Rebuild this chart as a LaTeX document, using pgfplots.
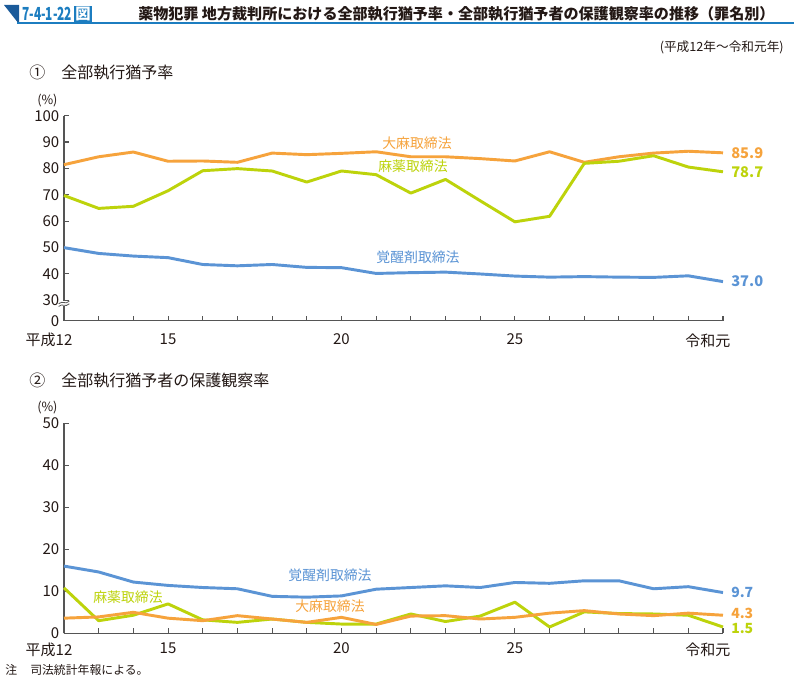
\documentclass[border=0pt]{standalone}
\usepackage{pgfplots}
\pgfplotsset{compat=1.18}
\usepackage{graphicx}
\usepackage{fontspec}
\setmainfont{Noto Sans CJK JP}
\definecolor{cOr}{HTML}{F6A33C}
\definecolor{cGr}{HTML}{BDD30B}
\definecolor{cBl}{HTML}{5B94D5}
\definecolor{tBl}{HTML}{1C7DC0}
\definecolor{tDk}{HTML}{1A5A9A}
\definecolor{axc}{HTML}{555555}
\definecolor{txt}{HTML}{231815}
\pgfplotsset{
  myax/.style={
    scale only axis, width=494.25pt,
    axis x line*=bottom, axis y line*=left,
    axis line style={axc, line width=0.9pt},
    xmin=2000, xmax=2019, clip=false,
    tick align=inside, major tick length=3.75pt, minor tick length=3.75pt,
    tick style={axc, line width=0.8pt},
    xtick={2000,2003,2008,2013,2019},
    xticklabels={{\llap{平成}12},15,20,25,{\llap{令和}元}},
    minor xtick={2001,2002,2004,2005,2006,2007,2009,2010,2011,2012,2014,2015,2016,2017,2018},
    /pgf/number format/assume math mode=true,
    ticklabel style={font=\fontsize{11.25}{12}\selectfont, text=txt},
    every axis plot/.append style={line width=2.2pt, mark=none, line join=round},
  }
}
\begin{document}
\begin{tikzpicture}
\begin{scope}[x=0.75pt,y=0.75pt]
\useasboundingbox (0,0) rectangle (794,682);
\fill[white] (0,0) rectangle (794,682);
% title bar
\fill[tDk] (4,677) -- (19,677) -- (19,658) -- cycle;
\draw[tBl, line width=1.5pt] (17,658.5) -- (794,658.5);
\node[anchor=west, text=tBl, inner sep=0pt, font=\bfseries\fontsize{13.5}{14}\selectfont] (num) at (22,668) {\scalebox{0.66}[1]{7-4-1-22}};
\node[anchor=west, fill=tBl, text=white, inner sep=0.8pt, font=\bfseries\fontsize{11.5}{12}\selectfont] at ([xshift=1.2pt]num.east) {図};
\node[anchor=west, inner sep=0pt, text=txt, font=\bfseries\fontsize{11.3}{12}\selectfont] at (138,668) {薬物犯罪 地方裁判所における全部執行猶予率・全部執行猶予者の保護観察率の推移（罪名別）};
\node[anchor=east, inner sep=0pt, text=txt, font=\fontsize{9.5}{10}\selectfont] at (784,635) {(平成12年～令和元年)};
\node[anchor=west, inner sep=0pt, text=txt, font=\fontsize{12}{13}\selectfont] at (29,609) {①\hspace{12pt}全部執行猶予率};
\node[anchor=west, inner sep=0pt, text=txt, font=\fontsize{9.5}{10}\selectfont] at (37,581) {(\%)};
\node[anchor=west, inner sep=0pt, text=txt, font=\fontsize{12}{13}\selectfont] at (29,301) {②\hspace{12pt}全部執行猶予者の保護観察率};
\node[anchor=west, inner sep=0pt, text=txt, font=\fontsize{9.5}{10}\selectfont] at (37,274) {(\%)};
\node[anchor=west, inner sep=0pt, text=txt, font=\fontsize{8.9}{10}\selectfont] at (5,12) {注};
\node[anchor=west, inner sep=0pt, text=txt, font=\fontsize{8.9}{10}\selectfont] at (30,12) {司法統計年報による。};
% series labels
\begin{scope}[every node/.style={inner sep=0pt, font=\fontsize{10.4}{11}\selectfont}]
\node[text=cOr] at (417,682-143) {大麻取締法};
\node[text=cGr] at (413,682-166) {麻薬取締法};
\node[text=cBl] at (418,682-257) {覚醒剤取締法};
\node[text=cBl] at (330,682-575) {覚醒剤取締法};
\node[text=cGr] at (128,682-597) {麻薬取締法};
\node[text=cOr] at (330,682-606) {大麻取締法};
\end{scope}
\end{scope}

% ---------- chart 1 ----------
\begin{axis}[myax, at={(48pt,270.975pt)}, anchor=south west, height=153.75pt,
  ymin=22.16, ymax=100,
  xticklabel style={yshift=-6pt},
  ytick={22.16,30,40,50,60,70,80,90,100},
  yticklabels={0,30,40,50,60,70,80,90,100}]
\addplot[cOr] coordinates {(2000,81.4)(2001,84.4)(2002,86.2)(2003,82.7)(2004,82.8)(2005,82.3)(2006,85.8)(2007,85.2)(2008,85.7)(2009,86.3)(2010,84.4)(2011,84.4)(2012,83.7)(2013,82.8)(2014,86.3)(2015,82.3)(2016,84.4)(2017,85.8)(2018,86.5)(2019,85.9)};
\addplot[cGr] coordinates {(2000,69.7)(2001,64.8)(2002,65.6)(2003,71.5)(2004,79.1)(2005,79.9)(2006,79.0)(2007,74.8)(2008,79.0)(2009,77.6)(2010,70.6)(2011,75.8)(2012,67.7)(2013,59.7)(2014,61.8)(2015,81.9)(2016,82.7)(2017,84.8)(2018,80.5)(2019,78.7)};
\addplot[cBl] coordinates {(2000,49.9)(2001,47.7)(2002,46.7)(2003,46.1)(2004,43.5)(2005,43.0)(2006,43.5)(2007,42.4)(2008,42.3)(2009,40.1)(2010,40.4)(2011,40.6)(2012,39.9)(2013,39.1)(2014,38.7)(2015,38.9)(2016,38.7)(2017,38.6)(2018,39.2)(2019,37.0)};
\begin{scope}[every node/.style={anchor=west, inner sep=0pt, xshift=6pt, font=\bfseries\fontsize{11}{12}\selectfont}]
\node[text=cOr] at (axis cs:2019,85.9) {85.9};
\node[text=cGr] at (axis cs:2019,78.7) {78.7};
\node[text=cBl] at (axis cs:2019,37.0) {37.0};
\end{scope}
\coordinate (brk) at (axis cs:2000,28.7);
\end{axis}
\fill[white] ([xshift=-4pt,yshift=-1.6pt]brk) rectangle ([xshift=4pt,yshift=1.6pt]brk);
\draw[axc, line width=0.6pt] ([xshift=-4pt,yshift=-0.2pt]brk) .. controls ([xshift=-1pt,yshift=2.6pt]brk) and ([xshift=1pt,yshift=-1.4pt]brk) .. ([xshift=4pt,yshift=1.8pt]brk);
\draw[axc, line width=0.6pt] ([xshift=-4pt,yshift=-2.2pt]brk) .. controls ([xshift=-1pt,yshift=0.6pt]brk) and ([xshift=1pt,yshift=-3.4pt]brk) .. ([xshift=4pt,yshift=-0.2pt]brk);

% ---------- chart 2 ----------
\begin{axis}[myax, at={(48pt,36.525pt)}, anchor=south west, height=157.5pt,
  xticklabel style={yshift=-3.5pt},
  ymin=0, ymax=50, ytick={0,10,20,30,40,50}]
\addplot[cBl] coordinates {(2000,16.0)(2001,14.6)(2002,12.2)(2003,11.4)(2004,10.9)(2005,10.6)(2006,8.8)(2007,8.6)(2008,8.9)(2009,10.5)(2010,10.9)(2011,11.3)(2012,10.9)(2013,12.1)(2014,11.9)(2015,12.5)(2016,12.5)(2017,10.6)(2018,11.1)(2019,9.7)};
\addplot[cGr] coordinates {(2000,10.8)(2001,3.0)(2002,4.3)(2003,7.0)(2004,3.2)(2005,2.6)(2006,3.4)(2007,2.6)(2008,2.2)(2009,2.2)(2010,4.6)(2011,2.8)(2012,4.1)(2013,7.4)(2014,1.5)(2015,5.1)(2016,4.7)(2017,4.6)(2018,4.3)(2019,1.5)};
\addplot[cOr] coordinates {(2000,3.6)(2001,3.9)(2002,5.0)(2003,3.6)(2004,3.0)(2005,4.2)(2006,3.4)(2007,2.6)(2008,3.8)(2009,2.1)(2010,4.1)(2011,4.2)(2012,3.4)(2013,3.8)(2014,4.8)(2015,5.4)(2016,4.6)(2017,4.2)(2018,4.8)(2019,4.3)};
\begin{scope}[every node/.style={anchor=west, inner sep=0pt, xshift=6pt, font=\bfseries\fontsize{10.5}{11}\selectfont}]
\node[text=cBl] at (axis cs:2019,9.7) {9.7};
\node[text=cOr, yshift=1pt] at (axis cs:2019,4.3) {4.3};
\node[text=cGr, yshift=-1pt] at (axis cs:2019,1.5) {1.5};
\end{scope}
\end{axis}
\end{tikzpicture}
\end{document}
